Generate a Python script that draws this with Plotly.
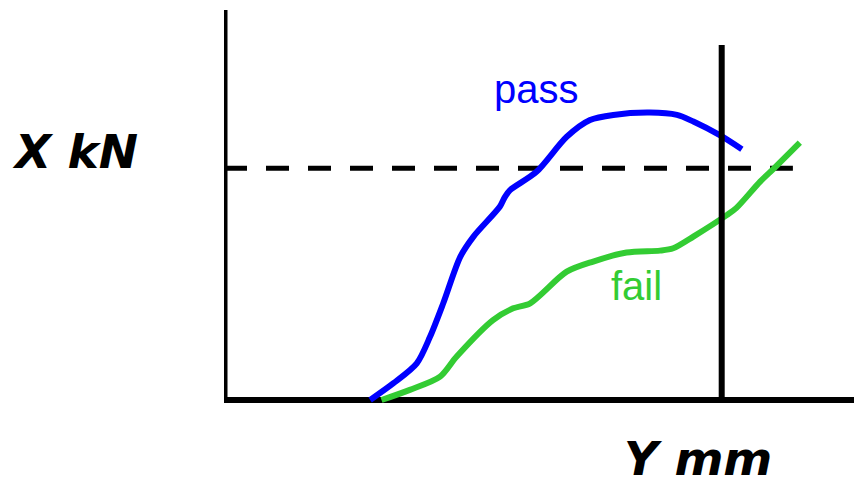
import plotly.graph_objects as go

# Data (arbitrary units: x in mm, y in kN)
pass_x = [23.2, 26.9, 30.6, 32.7, 34.8, 37.5, 39.6, 43.8, 44.6, 45.4, 49.6, 54.4, 58.1, 61.8, 67.6, 71.9, 74.5, 78.7, 82.2]
pass_y = [0.0, 4.3, 9.4, 16.2, 24.8, 36.7, 41.9, 49.6, 52.1, 53.8, 58.5, 67.5, 71.8, 73.1, 73.7, 73.1, 71.4, 67.9, 64.3]

fail_x = [25.0, 29.5, 34.3, 36.9, 42.7, 45.9, 48.6, 54.4, 58.6, 63.9, 69.2, 71.3, 74.5, 79.8, 81.3, 85.1, 87.3, 91.4]
fail_y = [0.0, 2.6, 6.0, 11.1, 20.5, 23.5, 24.8, 32.9, 35.5, 37.8, 38.3, 38.9, 41.9, 47.4, 49.2, 56.0, 59.4, 66.0]

threshold_force = 59.4      # dashed horizontal level
threshold_end = 90.3
limit_disp = 79.0           # vertical limit line
limit_top = 91.0
axis_x_max = 100.0
axis_y_max = 100.0

fig = go.Figure()

fig.add_trace(go.Scatter(x=pass_x, y=pass_y, mode="lines",
                         line=dict(color="#0000ff", width=6, shape="spline", smoothing=0.8),
                         hoverinfo="skip", showlegend=False))
fig.add_trace(go.Scatter(x=fail_x, y=fail_y, mode="lines",
                         line=dict(color="#33cc33", width=6, shape="spline", smoothing=0.8),
                         hoverinfo="skip", showlegend=False))

# axes lines
fig.add_shape(type="line", x0=0, x1=0, y0=0, y1=axis_y_max, xref="x", yref="y",
              line=dict(color="black", width=7), layer="below")
fig.add_shape(type="line", x0=0, x1=axis_x_max, y0=0, y1=0, xref="x", yref="y",
              line=dict(color="black", width=6), layer="below")
# dashed threshold
fig.add_shape(type="line", x0=0, x1=threshold_end, y0=threshold_force, y1=threshold_force,
              xref="x", yref="y", line=dict(color="black", width=5, dash="23px,19px"), layer="below")
# vertical limit
fig.add_shape(type="line", x0=limit_disp, x1=limit_disp, y0=0, y1=limit_top,
              xref="x", yref="y", line=dict(color="black", width=6), layer="above")

fig.add_annotation(x=49.6, y=79.7, xref="x", yref="y", text="pass", showarrow=False,
                   font=dict(family="Liberation Sans, Arial", size=40, color="#0000ff"),
                   xanchor="center", yanchor="middle")
fig.add_annotation(x=65.4, y=29.2, xref="x", yref="y", text="fail", showarrow=False,
                   font=dict(family="Liberation Sans, Arial", size=40, color="#33cc33"),
                   xanchor="center", yanchor="middle")
fig.add_annotation(x=-0.2365, y=0.6475, xref="paper", yref="paper", text="<b><i>X kN</i></b>",
                   showarrow=False, font=dict(family="DejaVu Sans", size=47, color="black"),
                   xanchor="center", yanchor="middle")
fig.add_annotation(x=0.7516, y=-0.12, xref="paper", yref="paper", text="<b><i>Y mm</i></b>",
                   showarrow=False, font=dict(family="DejaVu Sans", size=47, color="black"),
                   xanchor="center", yanchor="middle")

fig.update_xaxes(range=[0, axis_x_max], visible=False, fixedrange=True)
fig.update_yaxes(range=[-2.564, axis_y_max], visible=False, fixedrange=True)
fig.update_layout(width=854, height=480, margin=dict(l=224, r=0, t=10, b=70),
                  paper_bgcolor="white", plot_bgcolor="white", showlegend=False)

fig.write_html("out.html", config={"displayModeBar": False},
               post_script="document.body.style.margin='0';document.body.style.overflow='hidden';")
